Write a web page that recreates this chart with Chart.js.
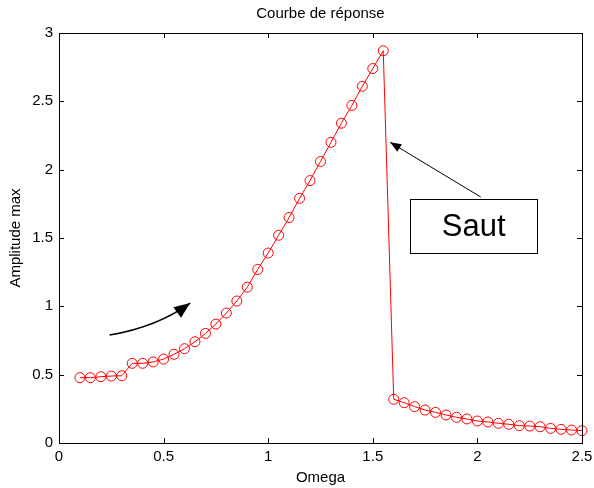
<!DOCTYPE html>
<html>
<head>
<meta charset="utf-8">
<script src="https://cdn.jsdelivr.net/npm/chart.js@4/dist/chart.umd.min.js"></script>
<style>
  html, body { margin: 0; padding: 0; background: #fff; }
  #wrap { width: 594px; height: 488px; }
</style>
</head>
<body>
<div id="wrap"><canvas id="chart" width="594" height="488"></canvas></div>
<script>
// Data
const omega = [0.1, 0.15, 0.2, 0.25, 0.3, 0.35, 0.4, 0.45, 0.5, 0.55, 0.6, 0.65, 0.7, 0.75, 0.8, 0.85,
               0.9, 0.95, 1.0, 1.05, 1.1, 1.15, 1.2, 1.25, 1.3, 1.35, 1.4, 1.45, 1.5, 1.55,
               1.6, 1.65, 1.7, 1.75, 1.8, 1.85, 1.9, 1.95, 2.0, 2.05, 2.1, 2.15, 2.2, 2.25, 2.3, 2.35, 2.4, 2.45, 2.5];
const amplitude = [0.478, 0.478, 0.485, 0.49, 0.492, 0.583, 0.583, 0.593, 0.614, 0.649, 0.69, 0.741, 0.802, 0.87, 0.951, 1.039,
                   1.14, 1.27, 1.39, 1.52, 1.65, 1.79, 1.92, 2.06, 2.20, 2.34, 2.47, 2.61, 2.74, 2.87,
                   0.32, 0.295, 0.266, 0.241, 0.224, 0.205, 0.188, 0.176, 0.161, 0.154, 0.144, 0.137, 0.127, 0.124, 0.119, 0.107, 0.1, 0.095, 0.09];
const xTicks = [0, 0.5, 1, 1.5, 2, 2.5];
const yTicks = [0, 0.5, 1, 1.5, 2, 2.5, 3];

const FONT = '"Liberation Sans", Arial, sans-serif';

// MATLAB-like box with inward tick marks + annotations
const matlabDecor = {
    id: 'matlabDecor',
    afterDraw(chart) {
        const { ctx, chartArea: a, scales: { x, y } } = chart;
        ctx.save();
        ctx.strokeStyle = '#000';
        ctx.lineWidth = 1;
        ctx.strokeRect(Math.round(a.left) + 0.5, Math.round(a.top) + 0.5,
                       Math.round(a.right - a.left), Math.round(a.bottom - a.top));
        const tl = 5;
        ctx.beginPath();
        xTicks.forEach(v => {
            const px = Math.round(x.getPixelForValue(v)) + 0.5;
            ctx.moveTo(px, a.bottom); ctx.lineTo(px, a.bottom - tl);
            ctx.moveTo(px, a.top); ctx.lineTo(px, a.top + tl);
        });
        yTicks.forEach(v => {
            const py = Math.round(y.getPixelForValue(v)) + 0.5;
            ctx.moveTo(a.left, py); ctx.lineTo(a.left + tl, py);
            ctx.moveTo(a.right, py); ctx.lineTo(a.right - tl, py);
        });
        ctx.stroke();

        // straight arrow to the jump
        const x0 = x.getPixelForValue(2.016), y0 = y.getPixelForValue(1.80);
        const x1 = x.getPixelForValue(1.583), y1 = y.getPixelForValue(2.20);
        ctx.beginPath();
        ctx.moveTo(x0, y0); ctx.lineTo(x1, y1);
        ctx.stroke();
        drawHead(ctx, x1, y1, Math.atan2(y1 - y0, x1 - x0), 11, 4.5);

        // curved arrow
        const cx0 = x.getPixelForValue(0.242), cy0 = y.getPixelForValue(0.79);
        const cx1 = x.getPixelForValue(0.627), cy1 = y.getPixelForValue(1.024);
        const qx = x.getPixelForValue(0.47), qy = y.getPixelForValue(0.85);
        ctx.lineWidth = 1.5;
        ctx.beginPath();
        ctx.moveTo(cx0, cy0);
        ctx.quadraticCurveTo(qx, qy, cx1, cy1);
        ctx.stroke();
        drawHead(ctx, cx1, cy1, Math.atan2(cy1 - qy, cx1 - qx), 16, 6.5);

        // text box
        const bx0 = x.getPixelForValue(1.68), by0 = y.getPixelForValue(1.785);
        const bx1 = x.getPixelForValue(2.285), by1 = y.getPixelForValue(1.39);
        ctx.fillStyle = '#fff';
        ctx.fillRect(bx0, by0, bx1 - bx0, by1 - by0);
        ctx.lineWidth = 1;
        ctx.strokeRect(Math.round(bx0) + 0.5, Math.round(by0) + 0.5, Math.round(bx1 - bx0), Math.round(by1 - by0));
        ctx.fillStyle = '#000';
        ctx.font = '31px ' + FONT;
        ctx.textAlign = 'center';
        ctx.textBaseline = 'middle';
        ctx.fillText('Saut', (bx0 + bx1) / 2, (by0 + by1) / 2 + 1);
        ctx.restore();
    }
};

function drawHead(ctx, x, y, ang, len, half) {
    ctx.save();
    ctx.translate(x, y);
    ctx.rotate(ang);
    ctx.fillStyle = '#000';
    ctx.beginPath();
    ctx.moveTo(0, 0);
    ctx.lineTo(-len, -half);
    ctx.lineTo(-len, half);
    ctx.closePath();
    ctx.fill();
    ctx.restore();
}

new Chart(document.getElementById('chart'), {
    type: 'line',
    data: {
        datasets: [{
            data: omega.map((o, i) => ({ x: o, y: amplitude[i] })),
            borderColor: '#ff0000',
            borderWidth: 1,
            pointStyle: 'circle',
            pointRadius: 5,
            pointBorderColor: '#ff0000',
            pointBackgroundColor: 'rgba(0,0,0,0)',
            pointBorderWidth: 1,
            tension: 0,
            clip: false
        }]
    },
    options: {
        responsive: false,
        animation: false,
        events: [],
        layout: { padding: { left: 0, right: 12, top: 0, bottom: 0 } },
        plugins: {
            legend: { display: false },
            tooltip: { enabled: false },
            title: {
                display: true,
                fullSize: false,
                text: 'Courbe de réponse',
                color: '#000',
                font: { family: FONT, size: 15, weight: 'normal' },
                padding: { top: 5, bottom: 10 }
            }
        },
        scales: {
            x: {
                type: 'linear',
                min: 0, max: 2.5,
                afterBuildTicks: s => { s.ticks = xTicks.map(v => ({ value: v })); },
                afterFit: s => { s.height = 45; s.paddingLeft = 0; s.paddingRight = 0; },
                grid: { display: false, drawTicks: false },
                border: { display: false },
                ticks: {
                    color: '#000', padding: 5,
                    font: { family: FONT, size: 15 },
                    callback: v => String(v)
                },
                title: {
                    display: true, text: 'Omega', color: '#000',
                    font: { family: FONT, size: 15 }, padding: { top: 0, bottom: 1 }
                }
            },
            y: {
                min: 0, max: 3,
                afterBuildTicks: s => { s.ticks = yTicks.map(v => ({ value: v })); },
                afterFit: s => { s.width = 59; s.paddingTop = 0; s.paddingBottom = 0; },
                grid: { display: false, drawTicks: false },
                border: { display: false },
                ticks: {
                    color: '#000', padding: 6,
                    font: { family: FONT, size: 15 },
                    callback: v => String(v)
                },
                title: {
                    display: true, text: 'Amplitude max', color: '#000',
                    font: { family: FONT, size: 15 }, padding: { top: 7, bottom: 0 }
                }
            }
        }
    },
    plugins: [matlabDecor]
});
</script>
</body>
</html>
